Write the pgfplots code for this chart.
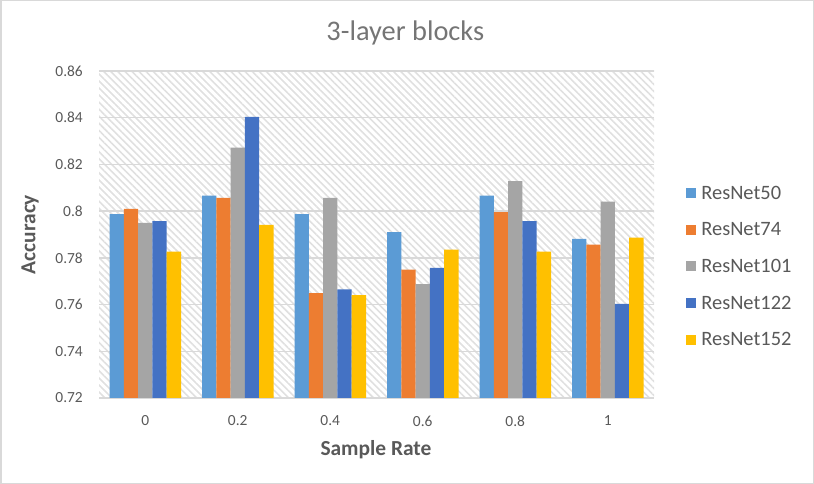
\documentclass[border=0pt]{standalone}
\usepackage{pgfplots}
\pgfplotsset{compat=1.18}
\usepackage{fontspec}
\setmainfont{Carlito}
\usetikzlibrary{patterns.meta}
\definecolor{cA}{HTML}{5B9BD5}
\definecolor{cB}{HTML}{ED7D31}
\definecolor{cC}{HTML}{A5A5A5}
\definecolor{cD}{HTML}{4472C4}
\definecolor{cE}{HTML}{FFC000}
\definecolor{txt}{HTML}{595959}
\definecolor{ttl}{HTML}{757575}
\definecolor{gridc}{HTML}{D9D9D9}
\definecolor{hatch}{HTML}{E0E0E0}

\pgfplotstableread{
x r50 r74 r101 r122 r152
0 0.7987 0.8010 0.7950 0.7957 0.7827
1 0.8066 0.8057 0.8272 0.8404 0.7941
2 0.7987 0.7649 0.8057 0.7665 0.7640
3 0.7910 0.7750 0.7688 0.7757 0.7835
4 0.8066 0.7996 0.8128 0.7957 0.7827
5 0.7881 0.7857 0.8041 0.7603 0.7887
}\datatable

\begin{document}
\begin{tikzpicture}
\path[use as bounding box] (0,0) rectangle (814bp,484bp);
\draw[gridc, line width=1.5bp] (0.75bp,0.75bp) rectangle (813.25bp,483.25bp);
\begin{axis}[
  at={(99bp,86bp)}, anchor=south west,
  scale only axis, width=555bp, height=327bp,
  ybar=0pt, bar width=14.3bp,
  xmin=-0.5, xmax=5.5, ymin=0.72, ymax=0.86,
  xtick=data, xticklabels={0,0.2,0.4,0.6,0.8,1},
  ytick={0.72,0.74,0.76,0.78,0.80,0.82,0.84,0.86},
  yticklabels={0.72,0.74,0.76,0.78,0.8,0.82,0.84,0.86},
  major tick length=0pt,
  ymajorgrids, grid style={gridc, line width=1.5bp},
  axis x line*=bottom, axis y line*=left,
  x axis line style={gridc, line width=1.5bp, -},
  y axis line style={draw=none},
  axis background/.style={pattern={Lines[angle=-45, distance=5bp, line width=1.6bp]}, pattern color=hatch},
  /pgf/number format/assume math mode=true,
  tick label style={font=\fontsize{15.5}{18}\selectfont, text=txt},
  xticklabel style={anchor=center, yshift=-23bp},
  yticklabel style={anchor=east, inner sep=0pt, xshift=-16bp},
  title={3-layer blocks},
  title style={font=\fontsize{28.5}{32}\selectfont, text=ttl, at={(rel axis cs:0.552,1)}, anchor=center, yshift=32bp},
  xlabel={Sample Rate}, ylabel={Accuracy},
  label style={font=\bfseries\fontsize{21.5}{25}\selectfont, text=txt},
  xlabel style={at={(axis description cs:0.499,-0.159)}, anchor=center},
  ylabel style={at={(axis description cs:-0.124,0.5)}, anchor=center},
  legend style={at={(rel axis cs:1.058,0.402)}, anchor=west, draw=none, fill=none,
    font=\fontsize{20.5}{24}\selectfont, text=txt, row sep=22bp, inner sep=0pt,
    nodes={inner sep=0pt}},
  legend cell align=left,
  legend image code/.code={\fill[#1, draw=none] (0bp,-5bp) rectangle (10bp,5bp);},
  /tikz/every odd column/.append style={column sep=5bp},
]
\addplot[fill=cA, draw=none] table[x=x, y=r50] {\datatable};
\addplot[fill=cB, draw=none] table[x=x, y=r74] {\datatable};
\addplot[fill=cC, draw=none] table[x=x, y=r101] {\datatable};
\addplot[fill=cD, draw=none] table[x=x, y=r122] {\datatable};
\addplot[fill=cE, draw=none] table[x=x, y=r152] {\datatable};
\legend{ResNet50, ResNet74, ResNet101, ResNet122, ResNet152}
\end{axis}
\end{tikzpicture}
\end{document}
